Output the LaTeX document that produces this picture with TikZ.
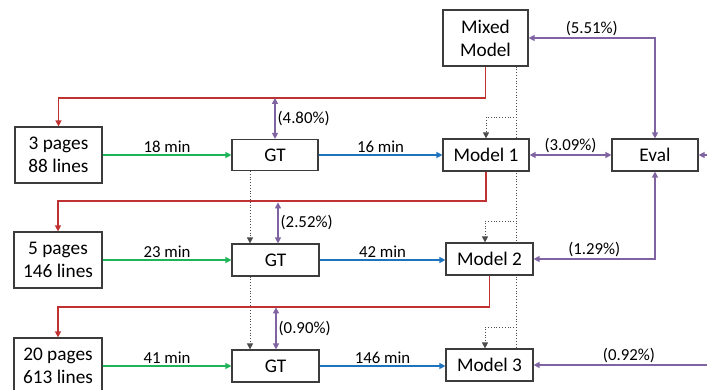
\documentclass[tikz,border=0pt]{standalone}
\usepackage{fontspec}
\setmainfont{Carlito}
\usetikzlibrary{arrows.meta,backgrounds}
\definecolor{cred}{RGB}{192,50,50}
\definecolor{cgreen}{RGB}{30,180,90}
\definecolor{cblue}{RGB}{30,115,190}
\definecolor{cpurple}{RGB}{128,100,162}
\definecolor{cbox}{RGB}{60,60,60}
\tikzset{
  box/.style={draw=cbox, line width=1.2pt, fill=white, align=center, inner sep=0pt,
    font=\fontsize{19.3}{23}\selectfont},
  lbl/.style={text=black, font=\fontsize{16.8}{20}\selectfont, inner sep=2pt},
  tip/.style={-{Triangle[length=6pt,width=6pt]}},
  dtip/.style={{Triangle[length=6pt,width=6pt]}-{Triangle[length=6pt,width=6pt]}},
  redline/.style={cred, line width=1.3pt, tip},
  greenline/.style={cgreen, line width=1.3pt, tip},
  blueline/.style={cblue, line width=1.3pt, tip},
  purpline/.style={cpurple, line width=1.3pt, dtip},
  purpone/.style={cpurple, line width=1.3pt, tip},
  dotline/.style={black!70, line width=0.8pt, dotted},
  dotarrow/.style={black!70, line width=0.8pt, dotted, -{Triangle[length=6pt,width=6pt]}},
}
\begin{document}
\begin{tikzpicture}[x=1pt,y=-1pt]
\useasboundingbox (0,0) rectangle (707,390);
\clip (0,0) rectangle (707,390);
% nodes
\node[box, minimum width=85pt, minimum height=56pt] (mixed) at (485.5,38) {Mixed\\Model};
\node[box, minimum width=86pt, minimum height=32pt] (m1) at (486,155) {Model 1};
\node[box, minimum width=86pt, minimum height=32pt] (eval) at (655,155) {Eval};
\node[box, minimum width=86pt, minimum height=31pt] (gt1) at (275,155) {GT};
\node[box, minimum width=87pt, minimum height=56pt] (p1) at (58.5,155) {3 pages\\88 lines};
\node[box, minimum width=88pt, minimum height=56pt] (p2) at (58,260) {5 pages\\146 lines};
\node[box, minimum width=87pt, minimum height=32pt] (gt2) at (275.5,260) {GT};
\node[box, minimum width=87pt, minimum height=32pt] (m2) at (489.5,259) {Model 2};
\node[box, minimum width=88pt, minimum height=56pt] (p3) at (58,366) {20 pages\\613 lines};
\node[box, minimum width=87pt, minimum height=32pt] (gt3) at (275.5,366) {GT};
\node[box, minimum width=87pt, minimum height=32pt] (m3) at (489.5,365) {Model 3};
% free-end coordinates
\coordinate (b1) at (516.7,117);
\coordinate (b2) at (516.7,221);
\coordinate (b3) at (516.7,327);
\coordinate (ein) at (707,155);
\coordinate (m3in) at (707,365);
\begin{pgfonlayer}{background}
% dotted model chain
\draw[dotline] ([xshift=31.2]mixed.south) -- ([xshift=27.2]m3.north);
\end{pgfonlayer}
\draw[dotarrow] (b1) -| (m1.north);
\draw[dotarrow] (b2) -| ([xshift=-4.5]m2.north);
\draw[dotarrow] (b3) -| ([xshift=-4.5]m3.north);
\draw[dotarrow] ([xshift=-25]gt1.south) -- ([xshift=-25]gt1.south |- gt2.north);
\draw[dotarrow] ([xshift=-25.5]gt2.south) -- ([xshift=-25.5]gt2.south |- gt3.north);
% red feedback
\draw[redline] (mixed.south) -- ++(0,31.5) -| (p1.north);
\draw[redline] (m1.south) -- ++(0,29.5) -| (p2.north);
\draw[redline] (m2.south) -- ++(0,31.5) -| (p3.north);
% green
\draw[greenline] (p1.east) -- node[lbl, above] {18 min} (gt1.west);
\draw[greenline] (p2.east |- gt2.west) -- node[lbl, above] {23 min} (gt2.west);
\draw[greenline] (p3.east |- gt3.west) -- node[lbl, above] {41 min} (gt3.west);
% blue
\draw[blueline] (gt1.east) -- node[lbl, above] {16 min} (m1.west |- gt1.east);
\draw[blueline] (gt2.east) -- node[lbl, above] {42 min} (m2.west |- gt2.east);
\draw[blueline] (gt3.east) -- node[lbl, above] {146 min} (m3.west |- gt3.east);
% purple GT
\draw[purpline] (gt1.north) -- node[lbl, right, pos=0.5] {(4.80\%)} ++(0,-41);
\draw[purpline] ([xshift=2.5]gt2.north) -- node[lbl, right, pos=0.5] {(2.52\%)} ++(0,-41);
\draw[purpline] ([xshift=0.5]gt3.north) -- node[lbl, right, pos=0.5] {(0.90\%)} ++(0,-42);
% purple eval
\draw[purpline] (mixed.east) -| node[lbl, above, pos=0.25] {(5.51\%)} (eval.north);
\draw[purpline] (m1.east) -- node[lbl, above] {(3.09\%)} (eval.west);
\draw[purpline] (eval.south) |- node[lbl, above, pos=0.75] {(1.29\%)} (m2.east);
\draw[purpone] (ein) -- (eval.east);
\draw[purpone] (m3in) -- node[lbl, above, pos=0.45] {(0.92\%)} (m3.east);
\end{tikzpicture}
\end{document}
